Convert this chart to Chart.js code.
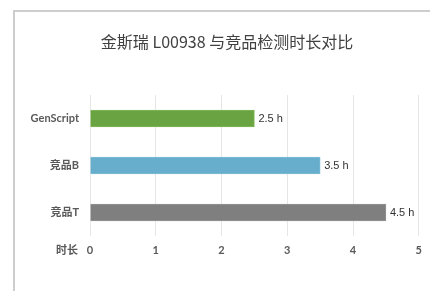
<!DOCTYPE html>
<html>
<head>
<meta charset="utf-8">
<script src="https://cdn.jsdelivr.net/npm/chart.js@4"></script>
<style>
html,body{margin:0;padding:0;background:#fff;}
#wrap{position:relative;width:430px;height:291px;overflow:hidden;}
#frame{position:absolute;left:13px;top:10px;width:500px;height:400px;border-left:2px solid #cdcdcd;border-top:2px solid #cdcdcd;}
canvas{position:absolute;left:0;top:0;}
</style>
</head>
<body>
<div id="wrap">
<div id="frame"></div>
<canvas id="c" width="430" height="291"></canvas>
</div>
<script>
const categories = ['GenScript', '竞品B', '竞品T'];
const values = [2.5, 3.5, 4.5];
const xTicks = [0, 1, 2, 3, 4, 5];
const unitLabel = 'h';
const axisLabel = '时长';
const titleText = '金斯瑞 L00938 与竞品检测时长对比';
const barColors = ['#6aa442', '#67aecc', '#7f7f7f'];
const barBorders = ['#7fb95a', '#7dbcd6', '#949494'];

const labelFont = '"Lato", "Noto Sans CJK SC", sans-serif';

const extras = {
  id: 'extras',
  afterDatasetsDraw(chart) {
    const ctx = chart.ctx;
    const meta = chart.getDatasetMeta(0);
    ctx.save();
    // title
    ctx.font = '16px "Noto Sans CJK SC", sans-serif';
    ctx.fillStyle = '#404040';
    ctx.textAlign = 'center';
    ctx.textBaseline = 'middle';
    ctx.fillText(titleText, 227, 42);
    // value labels
    ctx.font = '11px "Liberation Sans", Arial, sans-serif';
    ctx.fillStyle = '#333333';
    ctx.textAlign = 'left';
    meta.data.forEach((bar, i) => {
      ctx.fillText(values[i] + ' ' + unitLabel, bar.x + 4, bar.y);
    });
    const y = chart.scales.y;
    const x = chart.scales.x;
    ctx.fillStyle = '#595959';
    ctx.textAlign = 'right';
    ctx.font = 'bold 11px "Noto Sans CJK SC", sans-serif';
    ctx.fillText(axisLabel, y.right - 12, x.top + 14);
    ctx.restore();
  }
};

new Chart(document.getElementById('c'), {
  type: 'bar',
  data: {
    labels: categories,
    datasets: [{
      data: values,
      backgroundColor: barColors,
      borderColor: barBorders,
      borderWidth: 1,
      barThickness: 17
    }]
  },
  plugins: [extras],
  options: {
    indexAxis: 'y',
    responsive: false,
    animation: false,
    layout: { padding: { left: 0, right: 10, top: 95, bottom: 0 } },
    plugins: {
      legend: { display: false },
      tooltip: { enabled: false },
      title: { display: false }
    },
    scales: {
      x: {
        min: 0,
        max: 5,
        afterBuildTicks(scale) { scale.ticks = xTicks.map(v => ({ value: v })); },
        afterFit(scale) { scale.height = 55; },
        grid: { color: '#e6e6e6', lineWidth: 1, drawTicks: false },
        border: { display: false },
        ticks: {
          padding: 8,
          color: '#595959',
          font: { family: labelFont, size: 11, weight: 'bold' }
        }
      },
      y: {
        afterFit(scale) { scale.width = 90; },
        grid: { display: false, drawTicks: false },
        border: { display: false },
        ticks: {
          padding: 11,
          color: '#595959',
          font: { family: labelFont, size: 11, weight: 'bold' }
        }
      }
    }
  }
});
</script>
</body>
</html>
